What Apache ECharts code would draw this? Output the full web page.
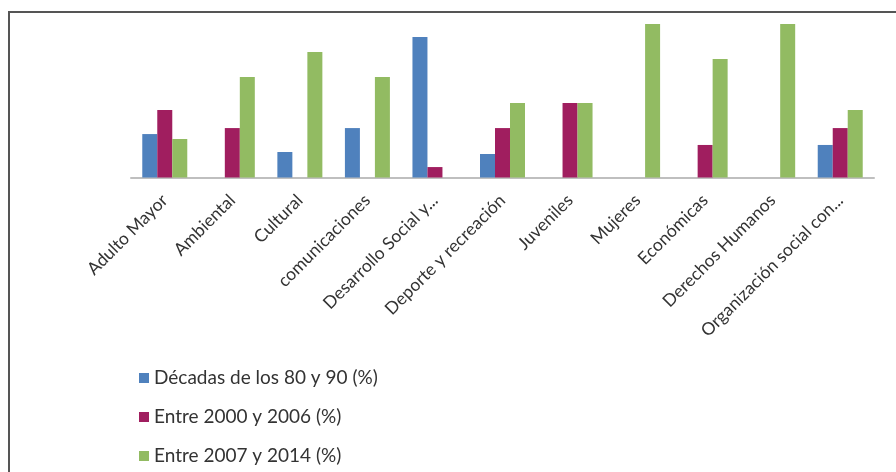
<!DOCTYPE html>
<html>
<head>
<meta charset="utf-8">
<script src="https://cdn.jsdelivr.net/npm/echarts@6/dist/echarts.min.js"></script>
<style>
  html, body { margin: 0; padding: 0; background: #fff; }
  #chart { width: 896px; height: 472px; }
</style>
</head>
<body>
<div id="chart"></div>
<script>
// categories (long names are cut in the original)
const categories = [
  'Adulto Mayor', 'Ambiental', 'Cultural', 'comunicaciones', 'Desarrollo Social y...',
  'Deporte y recreación', 'Juveniles', 'Mujeres', 'Económicas', 'Derechos Humanos',
  'Organización social con...'
];
const seriesNames = ['Décadas de los 80 y 90 (%)', 'Entre 2000 y 2006 (%)', 'Entre 2007 y 2014 (%)'];
const decadas8090 = [28.3, 0, 16.6, 32.2, 91.5, 15.3, 0, 0, 0, 0, 21.2];
const entre2000 = [44.0, 32.2, 0, 0, 6.8, 32.2, 48.5, 0, 21.2, 0, 32.2];
const entre2007 = [25.1, 65.5, 81.8, 65.5, 0, 48.5, 48.5, 100, 77.2, 100, 44.0];
const colors = ['#4F81BD', '#A01E5F', '#92BB62'];

const chart = echarts.init(document.getElementById('chart'));
const font = 'Lato';

const makeBar = (name, data) => ({
  name,
  type: 'bar',
  barWidth: 15,
  barGap: '0%',
  data
});

chart.setOption({
  animation: false,
  color: colors,
  grid: { left: 131, right: 22, top: 24, bottom: 294.5 },
  legend: {
    orient: 'vertical',
    left: 139,
    top: 368,
    height: 104,
    padding: 0,
    itemWidth: 10,
    itemHeight: 10,
    itemGap: 19,
    icon: 'rect',
    textStyle: { fontFamily: font, fontSize: 19, lineHeight: 20, color: '#333' },
    data: seriesNames
  },
  graphic: [
    {
      type: 'rect',
      shape: { x: 9, y: 12, width: 900, height: 470 },
      style: { fill: 'none', stroke: '#555', lineWidth: 2 },
      silent: true
    }
  ],
  xAxis: {
    type: 'category',
    data: categories,
    axisLine: { lineStyle: { color: '#BFBFBF', width: 2 } },
    axisTick: { show: false },
    axisLabel: {
      interval: 0,
      rotate: 45,
      margin: 20,
      fontFamily: font,
      fontSize: 17.5,
      color: '#333'
    }
  },
  yAxis: {
    type: 'value',
    min: 0,
    max: 100,
    show: false,
    splitLine: { show: false }
  },
  series: [
    makeBar(seriesNames[0], decadas8090),
    makeBar(seriesNames[1], entre2000),
    makeBar(seriesNames[2], entre2007)
  ]
});
</script>
</body>
</html>
